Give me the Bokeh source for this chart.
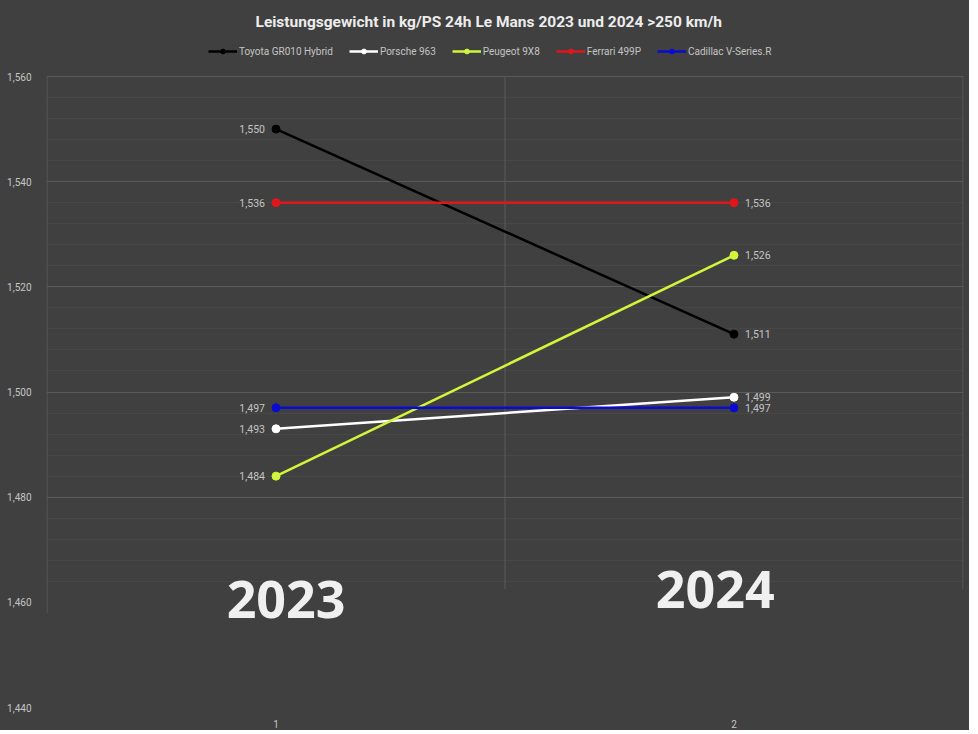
from bokeh.plotting import figure
from bokeh.models import (Range1d, FixedTicker, CustomJSTickFormatter, Legend,
                          LegendItem, Label)
from bokeh.core.properties import value
from bokeh.embed import file_html
from bokeh.resources import INLINE

# ---- data ----
years = [1, 2]
x_tick_labels = ["1", "2"]
year_labels = ["2023", "2024"]
series_names = ["Toyota GR010 Hybrid", "Porsche 963", "Peugeot 9X8",
                "Ferrari 499P", "Cadillac V-Series.R"]
toyota = [1.550, 1.511]
porsche = [1.493, 1.499]
peugeot = [1.484, 1.526]
ferrari = [1.536, 1.536]
cadillac = [1.497, 1.497]
y_ticks = [1.44, 1.46, 1.48, 1.50, 1.52, 1.54, 1.56]
title_text = "Leistungsgewicht  in kg/PS 24h Le Mans 2023 und 2024 >250 km/h"

series_values = [toyota, porsche, peugeot, ferrari, cadillac]
series_colors = ["#000000", "#ffffff", "#d2f53c", "#e0161c", "#0a0ad2"]

BG = "#404040"
GRID = "#5a5a5a"
TXT = "#c4c4c4"

Y_MIN, Y_MAX = y_ticks[0], y_ticks[-1]
# extra headroom above the top tick holds the legend
Y_TOP = Y_MAX + (Y_MAX - Y_MIN) * 41 / 631
# category boundaries (grid between categories, Excel style)
x_bounds = [years[0] - 0.5, (years[0] + years[1]) / 2, years[1] + 0.5]
pad = 0.0012


def fmt(v):
    return f"{v:.3f}".replace(".", ",")


p = figure(frame_width=917, frame_height=672,
           x_range=Range1d(x_bounds[0] - pad, x_bounds[-1] + pad),
           y_range=Range1d(Y_MIN, Y_TOP),
           output_backend="svg", toolbar_location=None,
           background_fill_color=BG, border_fill_color=BG,
           min_border_left=46, min_border_right=6,
           min_border_top=35, min_border_bottom=19)
p.outline_line_color = None
p.styles = {"background-color": BG}

# title
p.title.text = title_text
p.title.align = "left"
p.title.offset = 209
p.title.text_font = "Roboto"
p.title.text_font_size = "15.5px"
p.title.text_font_style = "bold"
p.title.text_color = "#ececec"

# y axis
p.yaxis.ticker = FixedTicker(ticks=y_ticks)
p.yaxis.formatter = CustomJSTickFormatter(code="return tick.toFixed(3).replace('.', ',');")
p.yaxis.axis_line_color = None
p.yaxis.major_tick_line_color = None
p.yaxis.minor_tick_line_color = None
p.yaxis.major_label_text_color = TXT
p.yaxis.major_label_text_font = "Roboto"
p.yaxis.major_label_text_font_size = "10px"
p.yaxis.major_label_standoff = 9

# horizontal grid only over the visible (upper) area as in the reference
grid_major = [t for t in y_ticks if t >= 1.48]
grid_minor = [round(1.464 + 0.004 * i, 3) for i in range(25)]
p.ygrid.ticker = FixedTicker(ticks=grid_major, minor_ticks=grid_minor)
p.ygrid.grid_line_color = GRID
p.ygrid.minor_grid_line_color = "#474747"

# vertical grid lines between categories (limited height)
p.xgrid.visible = False
p.segment(x0=x_bounds, x1=x_bounds, y0=[1.458, 1.4625, 1.4625],
          y1=[Y_MAX] * 3, line_color=GRID, line_width=1)

# x axis
p.xaxis.ticker = FixedTicker(ticks=years)
p.xaxis.major_label_overrides = {y: l for y, l in zip(years, x_tick_labels)}
p.xaxis.axis_line_color = None
p.xaxis.major_tick_line_color = None
p.xaxis.minor_tick_line_color = None
p.xaxis.major_label_text_color = TXT
p.xaxis.major_label_text_font = "Roboto"
p.xaxis.major_label_text_font_size = "10px"
p.xaxis.major_label_standoff = 6

# series
items = []
for name, vals, col in zip(series_names, series_values, series_colors):
    lr = p.line(years, vals, line_color=col, line_width=2.5)
    sr = p.scatter(years, vals, size=8, fill_color=col, line_color=col)
    items.append(LegendItem(label=name, renderers=[lr, sr]))

# data labels
first_vals = [v[0] for v in series_values]
last_vals = [v[1] for v in series_values]
p.text(x=[years[0]] * len(first_vals), y=first_vals,
       text=[fmt(v) for v in first_vals], x_offset=-11,
       text_align="right", text_baseline="middle",
       text_font=value("Roboto"), text_font_size="10.5px", text_color=TXT)
p.text(x=[years[1]] * len(last_vals), y=last_vals,
       text=[fmt(v) for v in last_vals], x_offset=11,
       text_align="left", text_baseline="middle",
       text_font=value("Roboto"), text_font_size="10.5px", text_color=TXT)

# big year labels
p.add_layout(Label(x=1.022, y=1.4605, text=year_labels[0],
                   text_font="Open Sans", text_font_style="bold",
                   text_font_size="52px", text_color="#f0f0f0",
                   text_align="center", text_baseline="middle"))
p.add_layout(Label(x=1.959, y=1.4625, text=year_labels[1],
                   text_font="Open Sans", text_font_style="bold",
                   text_font_size="52px", text_color="#f0f0f0",
                   text_align="center", text_baseline="middle"))

legend = Legend(items=items, orientation="horizontal", location=(160, 648),
                background_fill_alpha=0, border_line_alpha=0,
                label_text_color=TXT, label_text_font="Roboto",
                label_text_font_size="10px",
                glyph_width=29, glyph_height=12, label_standoff=2,
                spacing=16, padding=2, margin=0)
p.add_layout(legend, "center")

open("out.html", "w").write(file_html(p, INLINE))
